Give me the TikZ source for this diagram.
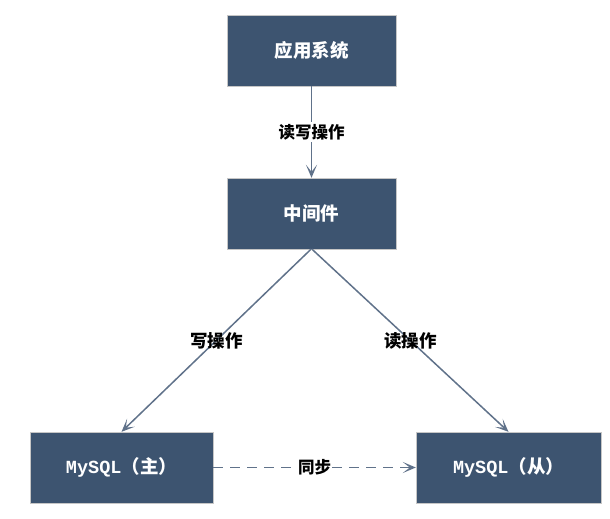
\documentclass[tikz,border=0pt]{standalone}
\usepackage{fontspec}
\newfontfamily\cjk{Noto Sans CJK SC}
\newfontfamily\sqlfont{Liberation Mono}
\usetikzlibrary{arrows.meta}

\begin{document}
\begin{tikzpicture}[x=1pt,y=-1pt,
    dbbox/.style={shape=rectangle,draw=gray!45,fill=db_box,text=white,minimum height=71pt,
        font=\cjk\bfseries\fontsize{18.5}{22}\selectfont},
    dbline/.style={draw=db_line,line width=1.5pt,-{Stealth[length=13pt,width=11pt,inset=7pt]}},
    oplabel/.style={font=\cjk\bfseries\fontsize{17.5}{20}\selectfont,text=black,inner sep=2pt}]
    \definecolor{db_box}{RGB}{61,84,112}
    \definecolor{db_line}{RGB}{96,114,138}
    \useasboundingbox (0,0) rectangle (610,519);
    \node[dbbox,minimum width=169pt] (app)    at (311.5,50.5)  {应用系统};
    \node[dbbox,minimum width=169pt] (mid)    at (311.5,213.5) {中间件};
    \node[dbbox,minimum width=183pt] (master) at (121.5,467.5) {{\sqlfont\bfseries MySQL}（主）};
    \node[dbbox,minimum width=185pt] (slave)  at (508.5,467.5) {{\sqlfont\bfseries MySQL}（从）};
    \draw[dbline] (app.south) -- node[oplabel,fill=white,font=\cjk\bfseries\fontsize{16.5}{20}\selectfont] {读写操作} (mid.north);
    \draw[dbline] ([xshift=-0.5pt]mid.south) -- node[oplabel] {写操作} (master.north);
    \draw[dbline] ([xshift=0.5pt]mid.south) -- node[oplabel] {读操作} (slave.north);
    \draw[dbline,dash pattern=on 10pt off 7pt] (master.east) -- node[oplabel,fill=white,inner sep=1pt,font=\cjk\bfseries\fontsize{16.5}{20}\selectfont] {同步} (slave.west);
\end{tikzpicture}
\end{document}
